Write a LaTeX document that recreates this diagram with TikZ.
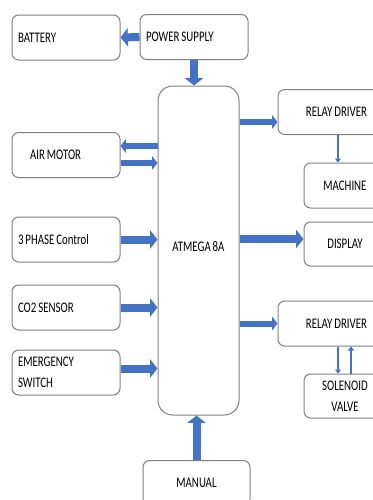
\documentclass[tikz,border=0pt]{standalone}
\usepackage{fontspec}
\setmainfont[FakeStretch=0.74,WordSpace=0.8]{Carlito}
\usetikzlibrary{arrows.meta,calc}
\definecolor{arrblue}{HTML}{4472C4}
\definecolor{boxgray}{HTML}{7F7F7F}
\begin{document}
\begin{tikzpicture}[x=0.75pt,y=-0.75pt,
  every node/.style={font=\fontsize{11}{16}\selectfont},
  bx/.style={draw=boxgray, line width=0.75pt, rounded corners=5pt, inner ysep=0pt, minimum height=33.75pt},
  lbox/.style={bx, text width=72pt, inner xsep=4.5pt, align=flush left, minimum width=81pt},
  rbox/.style={bx, align=center, inner xsep=0pt},
  big/.style={draw=arrblue, line width=6pt, -{Triangle[width=13.5pt,length=5.5pt]}},
  med/.style={draw=arrblue, line width=4.5pt, -{Triangle[width=10pt,length=4pt]}},
  thin/.style={draw=arrblue, line width=1.9pt, -{Triangle[width=4.5pt,length=3pt]}}]
\clip (0,0) rectangle (373,500);
% left column
\node[lbox] (bat) at (66,37.5) {BATTERY};
\node[lbox] (ps) at (194,37) {POWER SUPPLY};
\node[lbox] (am) at (66,155) {\hspace*{9pt}AIR MOTOR};
\node[lbox] (tp) at (66,239.5) {3 PHASE Control};
\node[lbox] (co) at (66,307.5) {CO2 SENSOR};
\node[lbox] (em) at (66,372.5) {EMERGENCY\\SWITCH};
% microcontroller
\node[bx, rounded corners=11pt, minimum width=60.75pt, minimum height=246.75pt] (atm) at (198.5,250.5) {\raisebox{6.4pt}{ATMEGA 8A}};
\node[bx, minimum width=80.25pt] (man) at (196.5,483) {MANUAL};
% right column
\node[rbox, minimum width=87.75pt] (r1) at (336.5,112) {RELAY DRIVER};
\node[rbox, minimum width=61.5pt] (mc) at (345,185.5) {MACHINE};
\node[rbox, minimum width=61.5pt, minimum height=33pt] (dp) at (345,244) {DISPLAY};
\node[rbox, minimum width=87.75pt] (r2) at (336.5,323.5) {RELAY DRIVER};
\node[rbox, minimum width=61.5pt, minimum height=33pt] (sv) at (345,396) {SOLENOID\\VALVE};
% helper coordinates
\coordinate (amA) at ($(am.east)+(0,-9)$);
\coordinate (amB) at ($(am.east)+(0,8)$);
\coordinate (emA) at ($(em.east)+(0,-4)$);
\coordinate (r1A) at ($(r1.west)+(0,10)$);
\coordinate (dpA) at ($(dp.west)+(0,-5)$);
\coordinate (r1B) at ($(r1.south)+(1.5,0)$);
\coordinate (r2B) at ($(r2.south)+(1.5,0)$);
\coordinate (svB) at ($(sv.north)+(6,0)$);
% connectors
\draw[big] (ps.west) -- (bat.east);
\draw[big] (ps.south) -- (ps.south |- atm.north);
\draw[med] (amA -| atm.west) -- (amA);
\draw[med] (amB) -- (amB -| atm.west);
\draw[big] (tp.east) -- (tp.east -| atm.west);
\draw[big] (co.east) -- (co.east -| atm.west);
\draw[big] (emA) -- (emA -| atm.west);
\draw[big] (man.north) -- (man.north |- atm.south);
\draw[med] (r1A -| atm.east) -- (r1A);
\draw[big] (dpA -| atm.east) -- (dpA);
\draw[med] (r2.west -| atm.east) -- (r2.west);
\draw[thin] (r1B) -- (r1B |- mc.north);
\draw[thin] (r2B) -- (r2B |- sv.north);
\draw[thin] (svB) -- (svB |- r2.south);
\end{tikzpicture}
\end{document}
